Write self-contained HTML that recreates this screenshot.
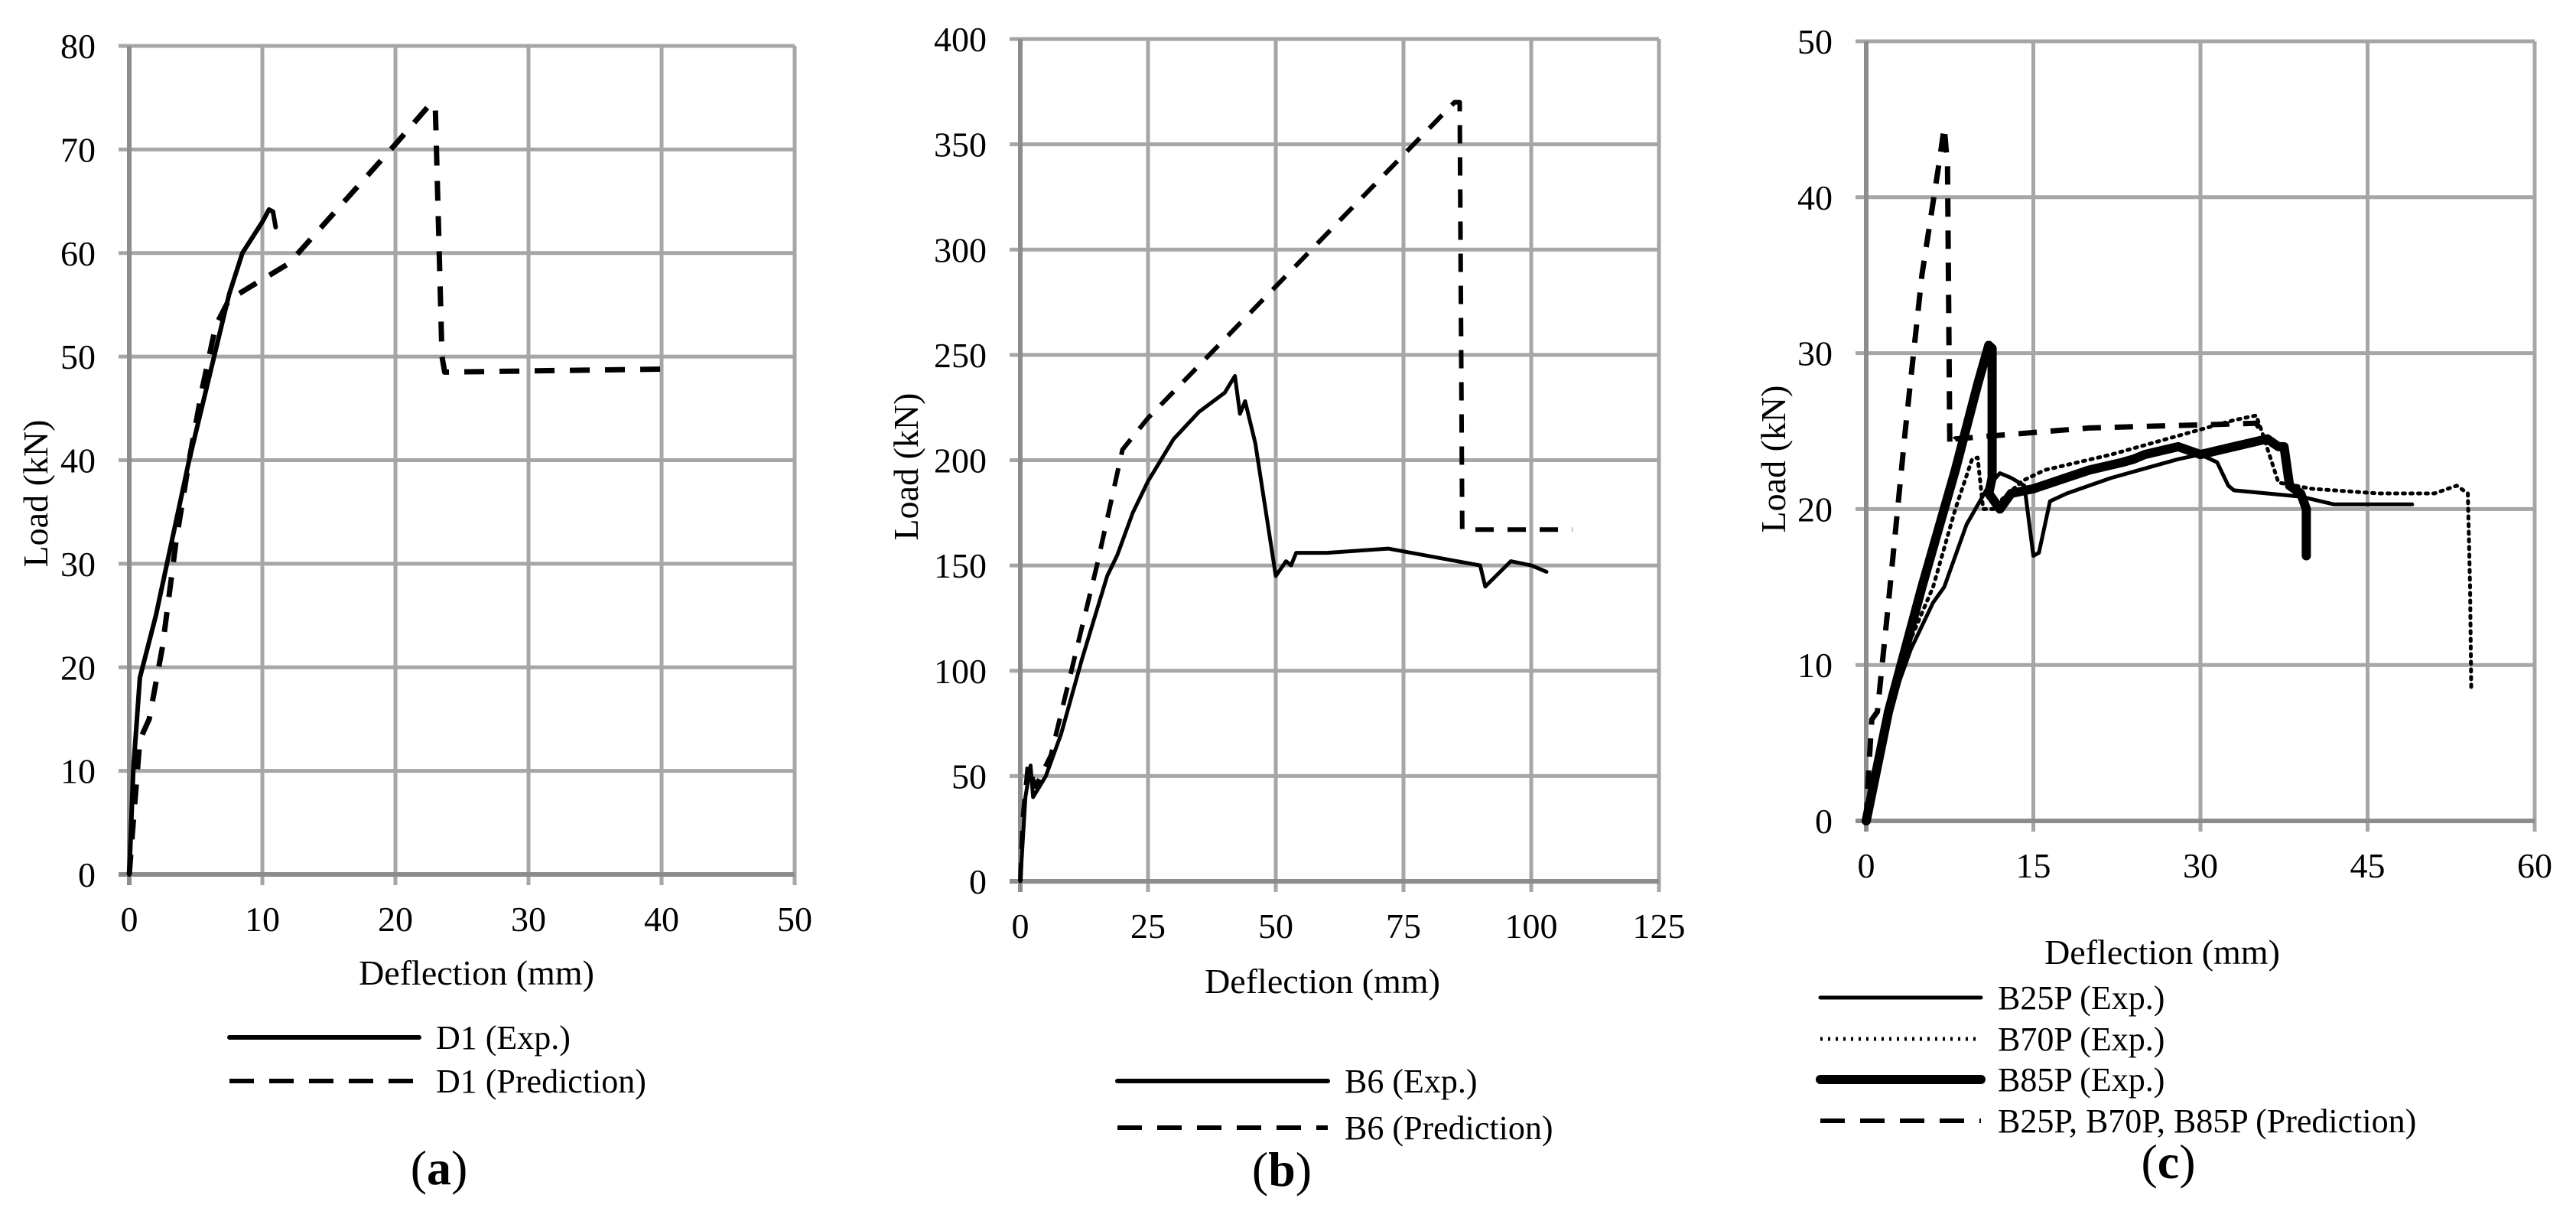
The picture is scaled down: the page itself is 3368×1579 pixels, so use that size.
<!DOCTYPE html>
<html><head><meta charset="utf-8"><style>
html,body{margin:0;padding:0;background:#fff;}
svg{display:block;}
text{font-family:"Liberation Serif",serif;fill:#000;}
</style></head><body>
<svg id="svg" width="3368" height="1579" viewBox="0 0 3368 1579" xmlns="http://www.w3.org/2000/svg"></svg>
<script>
// ---- Chart (a) data ----
const aXTicks=[0,10,20,30,40,50];
const aYTicks=[0,10,20,30,40,50,60,70,80];
const aExpX=[0,0.3,0.8,2,3,4.5,6,7.5,8.5,10,10.5,10.8,11];
const aExpY=[0,10,19,25,31,40,48,56,60,63,64.2,64,62.5];
const aPredX=[0,0.3,0.8,1.5,2.5,3.5,4.5,5.5,6.5,7.5,12,20,22.7,23,23.5,23.7,40.5];
const aPredY=[0,5,13,15,22,32,40,47,53,55.5,59,70.5,74.5,74,50,48.5,48.8];
// ---- Chart (b) data ----
const bXTicks=[0,25,50,75,100,125];
const bYTicks=[0,50,100,150,200,250,300,350,400];
const bExpX=[0,1,2,2.5,5,8,12,17,19,22,25,30,35,40,42,43,44,46,50,52,53,54,60,72,90,91,96,100,103];
const bExpY=[0,40,55,40,50,70,105,145,155,175,190,210,223,232,240,222,228,208,145,152,150,156,156,158,150,140,152,150,147];
const bPredX=[0,0.5,1.5,3,6,10,15,20,25,85,86,86.5,108];
const bPredY=[0,30,55,45,60,100,150,205,220,370,370,167,167];
// ---- Chart (c) data ----
const cXTicks=[0,15,30,45,60];
const cYTicks=[0,10,20,30,40,50];
const cPredX=[0,0.2,0.5,1,2,3.5,5,6.5,7,7.3,7.5,8,20,35,35.5];
const cPredY=[0,3,6.5,7,14,25,35,42,44.5,42,24,24.5,25.2,25.5,25];
const c25X=[0,2,4,6,7,9,11,12,13,14.2,15,15.5,16.5,18,22,28,30,31.5,32.5,33,36,39,42,49];
const c25Y=[0,7,11,14,15,19,21.5,22.3,22,21.5,17,17.2,20.5,21,22,23.2,23.5,23,21.5,21.2,21,20.8,20.3,20.3];
const c70X=[0,3,6,8,9.5,10,10.5,11.5,12,14,16,22,28,33,35,35.5,37,40,46,51,53,54,54.2,54.3];
const c70Y=[0,10,15,20,23.2,23.3,20,20,20.5,21.8,22.5,23.5,24.7,25.7,26,25,21.7,21.3,21,21,21.5,21,15,8.5];
const c85X=[0,2,5,8,10,11,11.3,11.3,11,12,13,15,20,23,24,25,28,30,36,37,37.5,38,39,39.5,39.5];
const c85Y=[0,7,15,22.5,28,30.5,30.3,22,21,20,21,21.3,22.5,23,23.2,23.5,24,23.5,24.5,24,24,21.5,21,20,17];

const NS="http://www.w3.org/2000/svg";
const svg=document.getElementById('svg');
function mk(tag,attrs,parent){const e=document.createElementNS(NS,tag);for(const k in attrs)e.setAttribute(k,attrs[k]);(parent||svg).appendChild(e);return e;}
function txt(x,y,s,size,anchor,parent,weight){const t=mk('text',{x:x,y:y,'font-size':size,'text-anchor':anchor||'start'},parent);if(weight)t.setAttribute('font-weight',weight);t.textContent=s;return t;}

function chart(cfg){
  const g=mk('g',{});
  
  
  const xs=v=>cfg.x0+(v-cfg.xmin)/(cfg.xmax-cfg.xmin)*(cfg.x1-cfg.x0);
  const ys=v=>cfg.y0-(v-cfg.ymin)/(cfg.ymax-cfg.ymin)*(cfg.y0-cfg.y1);
  // gridlines
  cfg.xt.forEach(v=>{const l=mk('line',{x1:xs(v),x2:xs(v),y1:cfg.y1,y2:cfg.y0+14,stroke:'#a6a6a6','stroke-width':5},g);
    
    const t=txt(xs(v),cfg.y0+74,String(v),46,'middle',g);
    });
  cfg.yt.forEach(v=>{const l=mk('line',{x1:cfg.x0-14,x2:cfg.x1,y1:ys(v),y2:ys(v),stroke:'#a6a6a6','stroke-width':5},g);
    
    const t=txt(cfg.x0-44,ys(v)+16,String(v),46,'end',g);
    });
  const ax=mk('line',{x1:cfg.x0,x2:cfg.x0,y1:cfg.y1,y2:cfg.y0+14,stroke:'#8c8c8c','stroke-width':6},g);
  
  const ax2=mk('line',{x1:cfg.x0-14,x2:cfg.x1,y1:cfg.y0,y2:cfg.y0,stroke:'#8c8c8c','stroke-width':6},g);
  
  cfg.series.forEach(s=>{
    const d=s.x.map((v,i)=>(i?'L':'M')+xs(v).toFixed(1)+','+ys(s.y[i]).toFixed(1)).join(' ');
    const p=mk('path',{d:d,fill:'none',stroke:'#000','stroke-width':s.w,'stroke-linejoin':'round','stroke-linecap':s.cap||'round'},g);
    if(s.dash)p.setAttribute('stroke-dasharray',s.dash);
    
  });
  const xt=txt(cfg.xtx,cfg.xty,'Deflection (mm)',46,'middle',g);
  
  const yt=txt(0,0,'Load (kN)',46,'middle',g);
  yt.setAttribute('transform','translate('+cfg.ytx+','+cfg.yty+') rotate(-90)');
  
  cfg.legend.forEach(L=>{
    const l=mk('line',{x1:cfg.lx0,x2:cfg.lx1,y1:L.y,y2:L.y,stroke:'#000','stroke-width':L.w,'stroke-linecap':L.dash?'butt':'round'},g);
    if(L.dash)l.setAttribute('stroke-dasharray',L.dash);
    
    const t=txt(cfg.lx1+22,L.y+15,L.t,44,'start',g);
    
  });
  const pl=txt(cfg.px,cfg.py,'',64,'middle',g);
  pl.innerHTML='(<tspan font-weight="bold">'+cfg.pl+'</tspan>)';
  
}
chart({name:'chart-a',x0:169,x1:1039,y0:1143,y1:60,xmin:0,xmax:50,ymin:0,ymax:80,xt:aXTicks,yt:aYTicks,
  series:[{name:'d1-exp-line',x:aExpX,y:aExpY,w:6},{name:'d1-prediction-line',x:aPredX,y:aPredY,w:7,dash:'26 20',cap:'butt'}],
  xtx:623,xty:1287,ytx:62,yty:645,lx0:300,lx1:548,
  legend:[{y:1356,w:6,t:'D1 (Exp.)'},{y:1413,w:6,dash:'32 20',t:'D1 (Prediction)'}],px:574,py:1548,pl:'a'});
chart({name:'chart-b',x0:1334,x1:2169,y0:1152,y1:51,xmin:0,xmax:125,ymin:0,ymax:400,xt:bXTicks,yt:bYTicks,
  series:[{name:'b6-exp-line',x:bExpX,y:bExpY,w:5},{name:'b6-prediction-line',x:bPredX,y:bPredY,w:6,dash:'24 18',cap:'butt'}],
  xtx:1729,xty:1298,ytx:1200,yty:610,lx0:1461,lx1:1736,
  legend:[{y:1413,w:6,t:'B6 (Exp.)'},{y:1474,w:6,dash:'32 20',t:'B6 (Prediction)'}],px:1676,py:1550,pl:'b'});
chart({name:'chart-c',x0:2440,x1:3314,y0:1073,y1:54,xmin:0,xmax:60,ymin:0,ymax:50,xt:cXTicks,yt:cYTicks,
  series:[{name:'b25p-exp-line',x:c25X,y:c25Y,w:5},{name:'b70p-exp-line',x:c70X,y:c70Y,w:5,dash:'3 7'},
          {name:'b85p-exp-line',x:c85X,y:c85Y,w:12},{name:'prediction-line',x:cPredX,y:cPredY,w:7,dash:'24 18',cap:'butt'}],
  xtx:2827,xty:1260,ytx:2334,yty:600,lx0:2380,lx1:2590,
  legend:[{y:1304,w:5,t:'B25P (Exp.)'},{y:1358,w:5,dash:'3 7',t:'B70P (Exp.)'},{y:1411,w:12,t:'B85P (Exp.)'},{y:1465,w:6,dash:'32 20',t:'B25P, B70P, B85P (Prediction)'}],
  px:2835,py:1540,pl:'c'});
</script>
</body></html>
